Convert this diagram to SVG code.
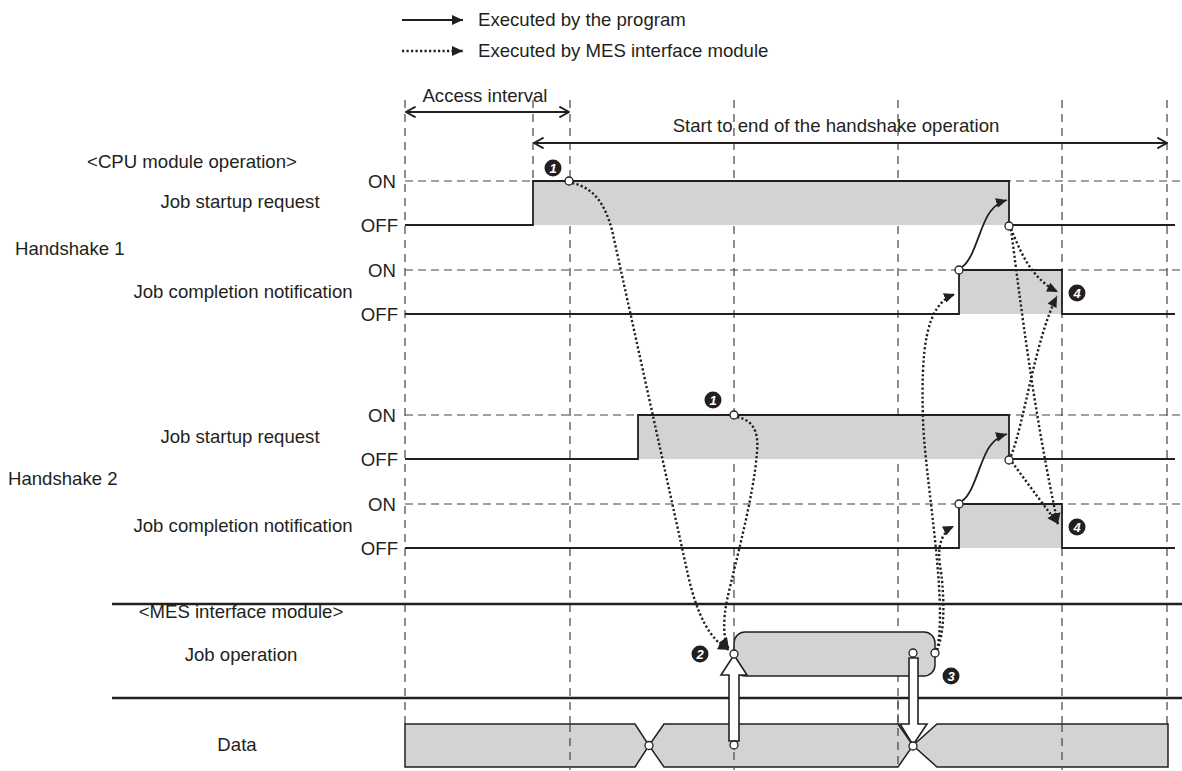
<svg xmlns="http://www.w3.org/2000/svg" width="1182" height="771" viewBox="0 0 1182 771">
<style>
text{font-family:"Liberation Sans",Arial,sans-serif;font-size:18.6px;fill:#231f20}
.mid{text-anchor:middle}
.end{text-anchor:end}
.vd{stroke:#444;stroke-width:1.2;stroke-dasharray:8,6;fill:none}
.hd{stroke:#444;stroke-width:1.2;stroke-dasharray:8,5;fill:none}
.sig{stroke:#231f20;stroke-width:1.8;fill:none}
.fill{fill:#d1d3d4;stroke:none}
.dot{stroke:#231f20;stroke-width:2.4;stroke-dasharray:2.2,2.3;fill:none}
.sol{stroke:#231f20;stroke-width:1.8;fill:none}
.pt{fill:#fff;stroke:#231f20;stroke-width:1.3}
.num circle{fill:#231f20}
.num text{fill:#fff;font-size:13px;font-weight:bold;font-style:italic;text-anchor:middle}
.sep{stroke:#231f20;stroke-width:2.4}
.blk{fill:#fff;stroke:#231f20;stroke-width:1.6;stroke-linejoin:miter}
</style>
<defs>
<marker id="ah" viewBox="0 0 10 10" refX="10" refY="5" markerWidth="11" markerHeight="11" markerUnits="userSpaceOnUse" orient="auto">
<path d="M0,0.5 L10,5 L0,9.5 Z" fill="#231f20"/>
</marker>
<marker id="oh" viewBox="0 0 10 10" refX="9" refY="5" markerWidth="12" markerHeight="12" markerUnits="userSpaceOnUse" orient="auto-start-reverse">
<path d="M1,0.5 L9,5 L1,9.5" fill="none" stroke="#231f20" stroke-width="1.5"/>
</marker>
</defs>

<g id="legend">
<line x1="402" y1="20" x2="463" y2="20" class="sol" marker-end="url(#ah)"/>
<text x="478" y="26">Executed by the program</text>
<line x1="402" y1="51" x2="463" y2="51" class="dot" marker-end="url(#ah)"/>
<text x="478" y="57">Executed by MES interface module</text>
</g>

<g id="grid">
<line x1="405" y1="100" x2="405" y2="724" class="vd"/>
<line x1="570" y1="100" x2="570" y2="770" class="vd"/>
<line x1="734" y1="100" x2="734" y2="770" class="vd"/>
<line x1="898" y1="100" x2="898" y2="770" class="vd"/>
<line x1="1062" y1="100" x2="1062" y2="770" class="vd"/>
<line x1="1167" y1="100" x2="1167" y2="724" class="vd"/>
<line x1="533" y1="100" x2="533" y2="181" class="vd"/>
<line x1="405" y1="181" x2="1182" y2="181" class="hd"/>
<line x1="405" y1="270" x2="1182" y2="270" class="hd"/>
<line x1="405" y1="415" x2="1182" y2="415" class="hd"/>
<line x1="405" y1="504" x2="1182" y2="504" class="hd"/>
</g>

<g id="intervals">
<line x1="406" y1="112" x2="569" y2="112" class="sol" marker-start="url(#oh)" marker-end="url(#oh)"/>
<text x="485" y="102" class="mid">Access interval</text>
<line x1="534" y1="143" x2="1167" y2="143" class="sol" marker-start="url(#oh)" marker-end="url(#oh)"/>
<text x="836" y="132" class="mid">Start to end of the handshake operation</text>
</g>

<g id="labels">
<text x="192" y="168" class="mid">&lt;CPU module operation&gt;</text>
<text x="15" y="255">Handshake 1</text>
<text x="8" y="485">Handshake 2</text>
<text x="241" y="618" class="mid">&lt;MES interface module&gt;</text>
<text x="241" y="661" class="mid">Job operation</text>
<text x="237" y="751" class="mid">Data</text>
</g>

<g id="hs1-startup">
<text x="240" y="208" class="mid">Job startup request</text>
<text x="396" y="188" class="end">ON</text>
<text x="398" y="232" class="end">OFF</text>
<rect x="533" y="181" width="476" height="44" class="fill"/>
<polyline points="405,225 533,225 533,181 1009,181 1009,225 1175,225" class="sig"/>
</g>

<g id="hs1-completion">
<text x="243" y="298" class="mid">Job completion notification</text>
<text x="396" y="277" class="end">ON</text>
<text x="398" y="321" class="end">OFF</text>
<rect x="959" y="270" width="103" height="44" class="fill"/>
<polyline points="405,314 959,314 959,270 1062,270 1062,314 1175,314" class="sig"/>
</g>

<g id="hs2-startup">
<text x="240" y="443" class="mid">Job startup request</text>
<text x="396" y="422" class="end">ON</text>
<text x="398" y="466" class="end">OFF</text>
<rect x="638" y="415" width="371" height="44" class="fill"/>
<polyline points="405,459 638,459 638,415 1009,415 1009,459 1175,459" class="sig"/>
</g>

<g id="hs2-completion">
<text x="243" y="532" class="mid">Job completion notification</text>
<text x="396" y="511" class="end">ON</text>
<text x="398" y="555" class="end">OFF</text>
<rect x="959" y="504" width="103" height="44" class="fill"/>
<polyline points="405,548 959,548 959,504 1062,504 1062,548 1175,548" class="sig"/>
</g>

<g id="separators">
<line x1="112" y1="604" x2="1182" y2="604" class="sep"/>
<line x1="112" y1="698" x2="1182" y2="698" class="sep"/>
</g>

<g id="job-operation">
<rect x="734" y="632" width="201" height="44" rx="11" ry="11" fill="#d1d3d4" stroke="#231f20" stroke-width="1.5"/>
</g>

<g id="data">
<polygon points="405,724 635,724 649,745.5 635,767 405,767" fill="#d1d3d4" stroke="#231f20" stroke-width="1.5"/>
<polygon points="664,724 898,724 913,745.5 898,767 664,767 649,745.5" fill="#d1d3d4" stroke="#231f20" stroke-width="1.5"/>
<polygon points="937,724 1168,724 1168,767 937,767 913,745.5" fill="#d1d3d4" stroke="#231f20" stroke-width="1.5"/>
<line x1="570" y1="724" x2="570" y2="770" class="vd"/>
<line x1="734" y1="724" x2="734" y2="770" class="vd"/>
<line x1="898" y1="700" x2="898" y2="770" class="vd"/>
<line x1="1062" y1="724" x2="1062" y2="770" class="vd"/>
</g>

<g id="connectors">
<path d="M572,183 C595,188 605,205 612,230 L688,575 C697,615 710,640 729,650" class="dot" marker-end="url(#ah)"/>
<path d="M737,417 C752,420 759,430 757,452 C754,495 736,560 727,600 C723,620 723,640 729,649" class="dot" marker-end="url(#ah)"/>
<path d="M937,650 C946,630 944,590 940,565 C937,545 942,532 954,526" class="dot" marker-end="url(#ah)"/>
<path d="M937,650 C948,600 925,480 923,420 C921,350 925,305 955,294" class="dot" marker-end="url(#ah)"/>
<path d="M1011,229 C1020,250 1030,278 1058,292" class="dot" marker-end="url(#ah)"/>
<path d="M1011,229 C1020,300 1035,420 1058,524" class="dot" marker-end="url(#ah)"/>
<path d="M1011,456 C1025,420 1035,340 1057,296" class="dot" marker-end="url(#ah)"/>
<path d="M1012,462 C1025,480 1040,500 1058,524" class="dot" marker-end="url(#ah)"/>
<path d="M962,267 C975,258 980,225 990,212 C995,205 1000,202 1007,200" class="sol" marker-end="url(#ah)"/>
<path d="M962,501 C975,492 980,459 990,446 C995,439 1000,436 1007,434" class="sol" marker-end="url(#ah)"/>
<polygon points="729,741 739,741 739,675 747,675 734,655 721,675 729,675" class="blk"/>
<polygon points="909,658 918,658 918,724 927,724 913,745 900,724 909,724" class="blk"/>
</g>

<g id="points">
<circle cx="569" cy="181" r="4" class="pt"/>
<circle cx="734" cy="415" r="4" class="pt"/>
<circle cx="1009" cy="226" r="4" class="pt"/>
<circle cx="959" cy="270" r="4" class="pt"/>
<circle cx="1009" cy="460" r="4" class="pt"/>
<circle cx="959" cy="504" r="4" class="pt"/>
<circle cx="734" cy="654" r="4" class="pt"/>
<circle cx="935" cy="653" r="4" class="pt"/>
<circle cx="913" cy="653" r="4" class="pt"/>
<circle cx="734" cy="745" r="4" class="pt"/>
<circle cx="913" cy="746" r="4" class="pt"/>
<circle cx="649" cy="745.5" r="4" class="pt"/>
</g>

<g id="markers" class="num">
<g id="m1a"><circle cx="553" cy="168" r="8.5"/><text x="553" y="172.5">1</text></g>
<g id="m1b"><circle cx="713" cy="400" r="8.5"/><text x="713" y="404.5">1</text></g>
<g id="m2"><circle cx="700" cy="654" r="8.5"/><text x="700" y="658.5">2</text></g>
<g id="m3"><circle cx="951" cy="676" r="8.5"/><text x="951" y="680.5">3</text></g>
<g id="m4a"><circle cx="1077" cy="293" r="8.5"/><text x="1077" y="297.5">4</text></g>
<g id="m4b"><circle cx="1077" cy="527" r="8.5"/><text x="1077" y="531.5">4</text></g>
</g>
</svg>
